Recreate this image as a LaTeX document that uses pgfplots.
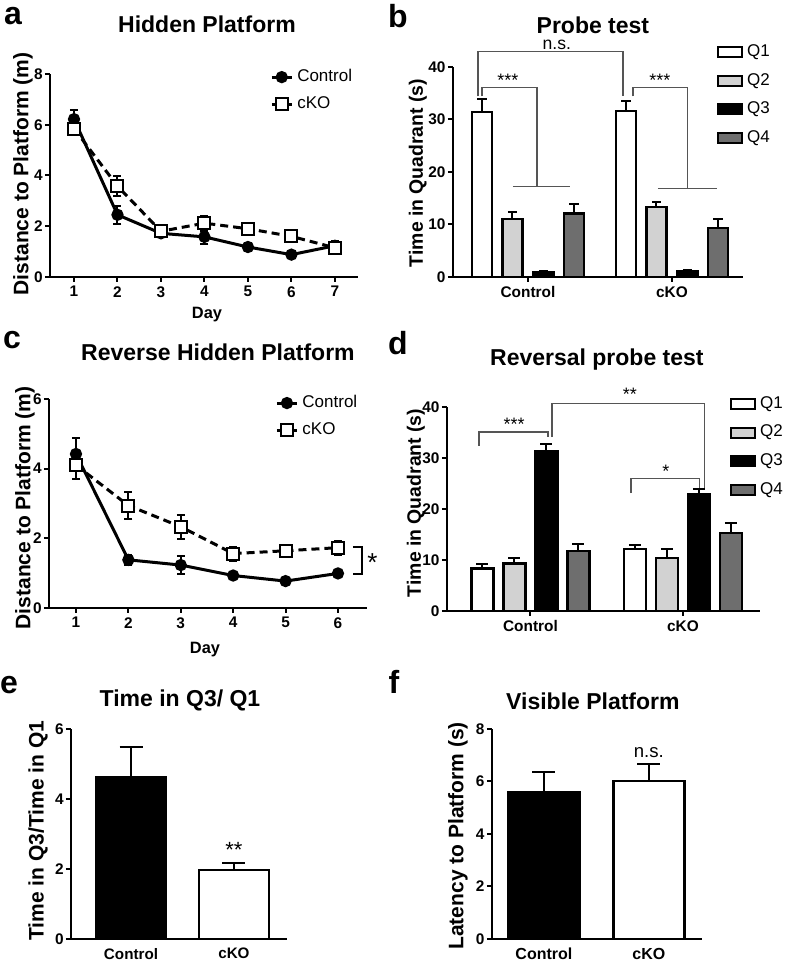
\documentclass[border=0pt]{standalone}
\usepackage{fontspec}
\setmainfont{Liberation Sans}
\usepackage{pgfplots}
\pgfplotsset{compat=1.18}
\definecolor{qtwo}{RGB}{210,210,210}
\definecolor{qfour}{RGB}{110,110,110}
\definecolor{brk}{RGB}{85,85,85}
\pgfplotsset{
 prism/.style={scale only axis, anchor=south west, axis lines*=left,
   axis line style={line width=1pt,black},
   every tick/.style={line width=1pt,black},
   tick align=outside, major tick length=2.5pt,
   /pgf/number format/assume math mode=true,
   yticklabel style={font=\bfseries\fontsize{7.7}{9}\selectfont, inner sep=1pt},
   xticklabel style={font=\bfseries\fontsize{7.7}{9}\selectfont, inner sep=2pt},
   clip=false, ymin=0},
 ebl/.style={/pgfplots/error bars/y dir=both, /pgfplots/error bars/y explicit,
   /pgfplots/error bars/error bar style={line width=1pt,solid,black},
   /pgfplots/error bars/error mark options={rotate=90, mark size=2pt, line width=1pt, solid, black}},
 ebb/.style={/pgfplots/error bars/y dir=plus, /pgfplots/error bars/y explicit,
   /pgfplots/error bars/error bar style={line width=1pt,solid,black},
   /pgfplots/error bars/error mark options={rotate=90, mark size=#1, line width=1pt, solid, black}},
 ctrl/.style={black, line width=1.5pt, mark=*, mark size=2.3pt, mark options={solid}, ebl},
 cko/.style={black, line width=1.5pt, dash pattern=on 4pt off 2.5pt, mark=square*, mark size=3pt, mark options={solid, fill=white, line width=1pt}, ebl},
 linelegend/.style={legend image code/.code={\draw[mark repeat=2,mark phase=2,##1] plot coordinates {(0pt,0pt) (5pt,0pt) (10pt,0pt)};},
   legend cell align=left,
   legend style={draw=none, fill=none, inner sep=0pt, row sep=2pt, font=\fontsize{8.5}{10}\selectfont}},
 barlegend/.style={legend image code/.code={\draw[##1, line width=1pt] (0pt,-2.5pt) rectangle (12pt,2.5pt);},
   legend cell align=left,
   legend style={draw=none, fill=none, inner sep=0pt, row sep=3pt, font=\fontsize{8.5}{10}\selectfont}},
}
\begin{document}
\begin{tikzpicture}
\begin{scope}[x=0.5pt,y=-0.5pt]
\useasboundingbox (0,0) rectangle (787,964);
\coordinate (pa) at (50,277);
\coordinate (pb) at (453,277);
\coordinate (pc) at (49,608);
\coordinate (pd) at (447,611);
\coordinate (pe) at (71,939);
\coordinate (pf) at (492,939);
% panel letters
\node[font=\bfseries\fontsize{16}{18}\selectfont] at (13,16) {a};
\node[font=\bfseries\fontsize{16}{18}\selectfont] at (398,16) {b};
\node[font=\bfseries\fontsize{16}{18}\selectfont] at (12,340) {c};
\node[font=\bfseries\fontsize{16}{18}\selectfont] at (398,343) {d};
\node[font=\bfseries\fontsize{16}{18}\selectfont] at (9,685) {e};
\node[font=\bfseries\fontsize{16}{18}\selectfont] at (394,682) {f};
% titles
\node[font=\bfseries\fontsize{11.5}{13}\selectfont] at (207,24) {Hidden Platform};
\node[font=\bfseries\fontsize{11.5}{13}\selectfont] at (593,25) {Probe test};
\node[font=\bfseries\fontsize{11.5}{13}\selectfont] at (218,352) {Reverse Hidden Platform};
\node[font=\bfseries\fontsize{11.5}{13}\selectfont] at (597,360) {Reversal probe test};
\node[font=\bfseries\fontsize{11.5}{13}\selectfont] at (180,701) {Time in Q3/ Q1};
\node[font=\bfseries\fontsize{11.5}{13}\selectfont] at (593,701) {Visible Platform};
% y labels
\node[rotate=90, font=\bfseries\fontsize{10.5}{12}\selectfont] at (23,174) {Distance to Platform (m)};
\node[rotate=90, font=\bfseries\fontsize{9.7}{11}\selectfont] at (418,173) {Time in Quadrant (s)};
\node[rotate=90, font=\bfseries\fontsize{10.5}{12}\selectfont] at (25,508) {Distance to Platform (m)};
\node[rotate=90, font=\bfseries\fontsize{9.7}{11}\selectfont] at (416,503) {Time in Quadrant (s)};
\node[rotate=90, font=\bfseries\fontsize{10.5}{12}\selectfont] at (38,831) {Time in Q3/Time in Q1};
\node[rotate=90, font=\bfseries\fontsize{10.5}{12}\selectfont] at (458,836) {Latency to Platform (s)};
% x labels
\node[font=\bfseries\fontsize{8.2}{10}\selectfont] at (207,315) {Day};
\node[font=\bfseries\fontsize{8.2}{10}\selectfont] at (205,650) {Day};
\end{scope}

% ---------------- a
\begin{axis}[prism, at={(pa)}, width=154pt, height=101.5pt,
  xmin=0.448, xmax=7.53, ymax=8, xtick={1,...,7}, ytick={0,2,4,6,8},
  linelegend, legend style={at={(0.714,1.044)}, anchor=north west}]
\addplot[ctrl] coordinates {(1,6.22) +- (0,0.38) (2,2.45) +- (0,0.35) (3,1.72) +- (0,0.15) (4,1.58) +- (0,0.28) (5,1.18) +- (0,0.15) (6,0.88) +- (0,0.07) (7,1.23) +- (0,0.2)};
\addplot[cko] coordinates {(1,5.85) +- (0,0.25) (2,3.58) +- (0,0.38) (3,1.8) +- (0,0.12) (4,2.12) +- (0,0.3) (5,1.9) +- (0,0.22) (6,1.6) +- (0,0.1) (7,1.15) +- (0,0.15)};
\legend{Control, cKO}
\end{axis}

% ---------------- b
\begin{axis}[prism, at={(pb)}, width=145pt, height=105pt,
  xmin=-0.521, xmax=1.493, ymax=40, ytick={0,10,20,30,40},
  xtick={0,1}, xticklabels={Control,cKO},
  barlegend, legend style={at={(0.910,1.129)}, anchor=north west}]
\addplot[ybar, bar width=10pt, bar shift=0pt, fill=white, draw=black, line width=1.2pt, ebb=2.3pt] coordinates {(-0.3194,31.4) +- (0,2.5) (0.6806,31.6) +- (0,2.0)};
\addplot[ybar, bar width=10pt, bar shift=0pt, fill=qtwo, draw=black, line width=1.2pt, ebb=2.3pt] coordinates {(-0.1076,11.0) +- (0,1.4) (0.8924,13.3) +- (0,1.0)};
\addplot[ybar, bar width=10pt, bar shift=0pt, fill=black, draw=black, line width=1.2pt, ebb=2.3pt] coordinates {(0.1076,0.95) +- (0,0.2) (1.1076,1.1) +- (0,0.2)};
\addplot[ybar, bar width=10pt, bar shift=0pt, fill=qfour, draw=black, line width=1.2pt, ebb=2.3pt] coordinates {(0.3194,12.1) +- (0,1.8) (1.3194,9.3) +- (0,1.7)};
\legend{Q1,Q2,Q3,Q4}
\draw[brk, line width=0.6pt] (-0.347,34.4) |- (0.660,43.0) -- (0.660,34.4);
\node[font=\fontsize{8.8}{10}\selectfont, anchor=south, inner sep=0.5pt] at (0.201,43.0) {n.s.};
\draw[brk, line width=0.6pt] (-0.319,34.4) |- (0.0625,36.1) -- (0.0625,17.3);
\draw[brk, line width=0.6pt] (-0.104,17.3) -- (0.292,17.3);
\node[font=\fontsize{9}{10}\selectfont, anchor=south, inner sep=0.5pt] at (-0.139,36.1) {***};
\draw[brk, line width=0.6pt] (0.729,34.4) |- (1.111,36.1) -- (1.111,16.9);
\draw[brk, line width=0.6pt] (0.903,16.9) -- (1.3125,16.9);
\node[font=\fontsize{9}{10}\selectfont, anchor=south, inner sep=0.5pt] at (0.917,36.1) {***};
\end{axis}

% ---------------- c
\begin{axis}[prism, at={(pc)}, width=159pt, height=104.5pt,
  xmin=0.485, xmax=6.553, ymax=6, xtick={1,...,6}, ytick={0,2,4,6},
  linelegend, legend style={at={(0.711,1.038)}, anchor=north west}]
\addplot[ctrl] coordinates {(1,4.42) +- (0,0.45) (2,1.38) +- (0,0.15) (3,1.23) +- (0,0.26) (4,0.93) +- (0,0.1) (5,0.77) +- (0,0.05) (6,0.99) +- (0,0.05)};
\addplot[cko] coordinates {(1,4.1) +- (0,0.4) (2,2.94) +- (0,0.38) (3,2.33) +- (0,0.35) (4,1.56) +- (0,0.2) (5,1.64) +- (0,0.18) (6,1.73) +- (0,0.2)};
\legend{Control, cKO}
\draw[black, line width=0.8pt] (6.286,1.75) -- (6.458,1.75) -- (6.458,0.98) -- (6.286,0.98);
\node[font=\fontsize{13}{14}\selectfont] at (6.66,1.3) {*};
\end{axis}

% ---------------- d
\begin{axis}[prism, at={(pd)}, width=156.5pt, height=102pt,
  xmin=-0.548, xmax=1.505, ymax=40, ytick={0,10,20,30,40},
  xtick={0,1}, xticklabels={Control,cKO},
  barlegend, legend style={at={(0.904,1.074)}, anchor=north west}]
\addplot[ybar, bar width=11pt, bar shift=0pt, fill=white, draw=black, line width=1.2pt, ebb=3pt] coordinates {(-0.315,8.3) +- (0,0.95) (0.685,12.1) +- (0,0.8)};
\addplot[ybar, bar width=11pt, bar shift=0pt, fill=qtwo, draw=black, line width=1.2pt, ebb=3pt] coordinates {(-0.105,9.3) +- (0,1.1) (0.895,10.4) +- (0,1.7)};
\addplot[ybar, bar width=11pt, bar shift=0pt, fill=black, draw=black, line width=1.2pt, ebb=3pt] coordinates {(0.105,31.4) +- (0,1.4) (1.105,22.9) +- (0,1.0)};
\addplot[ybar, bar width=11pt, bar shift=0pt, fill=qfour, draw=black, line width=1.2pt, ebb=3pt] coordinates {(0.315,11.7) +- (0,1.5) (1.315,15.3) +- (0,2.0)};
\legend{Q1,Q2,Q3,Q4}
\draw[brk, line width=0.6pt] (-0.338,32.4) |- (0.115,35.1) -- (0.115,34.1);
\node[font=\fontsize{9}{10}\selectfont, anchor=south, inner sep=0.5pt] at (-0.108,35.1) {***};
\draw[brk, line width=0.6pt] (0.141,34.1) |- (1.144,40.6) -- (1.144,24.1);
\node[font=\fontsize{9}{10}\selectfont, anchor=south, inner sep=1.5pt] at (0.652,40.6) {**};
\draw[brk, line width=0.6pt] (0.659,23.1) |- (1.111,25.9) -- (1.111,24.1);
\node[font=\fontsize{9}{10}\selectfont, anchor=south, inner sep=0.5pt] at (0.889,25.9) {*};
\end{axis}

% ---------------- e
\begin{axis}[prism, at={(pe)}, width=108pt, height=105pt,
  xmin=-0.583, xmax=1.515, ymax=6, ytick={0,2,4,6},
  xtick={0,1}, xticklabels={Control,cKO}, xtick style={draw=none},
  xticklabel style={font=\bfseries\fontsize{7.6}{9}\selectfont}]
\addplot[ybar, bar width=35pt, bar shift=0pt, fill=black, draw=black, line width=1.2pt, ebb=5.75pt] coordinates {(0,4.63) +- (0,0.86)};
\addplot[ybar, bar width=35pt, bar shift=0pt, fill=white, draw=black, line width=1.2pt, ebb=5.75pt] coordinates {(1,1.97) +- (0,0.2)};
\node[font=\fontsize{11}{12}\selectfont] at (1,2.55) {**};
\end{axis}

% ---------------- f
\begin{axis}[prism, at={(pf)}, width=105pt, height=105pt,
  xmin=-0.495, xmax=1.505, ymax=8, ytick={0,2,4,6,8},
  xtick={0,1}, xticklabels={Control,cKO}, xtick style={draw=none},
  xticklabel style={font=\bfseries\fontsize{8}{9}\selectfont}]
\addplot[ybar, bar width=35.5pt, bar shift=0pt, fill=black, draw=black, line width=1.2pt, ebb=5.75pt] coordinates {(0,5.6) +- (0,0.76)};
\addplot[ybar, bar width=35.5pt, bar shift=0pt, fill=white, draw=black, line width=1.2pt, ebb=5.75pt] coordinates {(1,6.02) +- (0,0.65)};
\node[font=\fontsize{9.3}{10}\selectfont] at (1,7.09) {n.s.};
\end{axis}
\end{tikzpicture}
\end{document}
